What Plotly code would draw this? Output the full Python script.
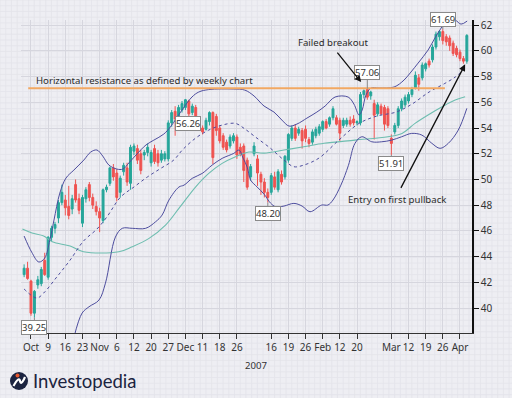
import plotly.graph_objects as go

# ---------------- data ----------------
opens = [42.6, 43.1, 42.1, 39.6, 41.8, 41.9, 43.7, 42.4, 45.5, 46.2,
         47.0, 48.2, 48.4, 47.9, 47.7, 49.6, 48.5, 46.6, 48.5, 49.6,
         48.6, 47.9, 47.5, 46.8, 49.2, 49.7, 50.9, 50.5, 49.0, 50.6,
         50.9, 49.7, 52.2, 52.4, 52.0, 51.9, 52.1, 51.3, 52.4, 52.0,
         51.5, 51.6, 51.6, 54.4, 55.3, 54.8, 55.4, 55.6, 56.1, 55.2,
         55.6, 54.5, 54.0, 53.9, 54.5, 55.2, 54.9, 54.0, 53.4, 52.9,
         52.6, 53.0, 53.3, 52.5, 52.6, 51.5, 50.2, 52.0, 51.6, 50.4,
         49.8, 49.0, 49.0, 50.2, 49.2, 50.4, 50.2, 51.5, 53.2, 54.0,
         53.6, 53.8, 53.9, 53.1, 52.9, 53.4, 53.6, 53.9, 54.5, 54.3,
         54.8, 54.8, 54.6, 54.2, 54.3, 54.6, 54.7, 54.4, 54.4, 56.6,
         57.0, 56.5, 55.9, 55.1, 55.7, 55.6, 55.5, 53.2, 53.7, 54.2,
         55.5, 55.8, 56.1, 56.6, 57.1, 57.9, 57.9, 58.6, 59.2, 59.3,
         60.3, 61.1, 61.5, 61.1, 61.0, 60.6, 60.2, 59.9, 59.4, 59.2]
highs = [43.4, 43.6, 42.2, 41.4, 42.5, 43.2, 44.3, 45.6, 46.4, 46.7,
         48.4, 49.6, 48.8, 49.5, 48.8, 50.0, 48.9, 48.8, 49.4, 49.8,
         48.9, 48.3, 47.8, 49.3, 49.6, 51.0, 51.2, 50.8, 50.3, 51.3,
         51.3, 52.7, 52.8, 52.7, 52.3, 52.3, 52.8, 52.3, 52.7, 52.3,
         52.3, 52.2, 54.6, 55.4, 55.7, 55.8, 56.1, 56.26, 56.2, 55.9,
         55.8, 54.7, 54.2, 54.8, 55.3, 55.3, 55.1, 54.2, 53.6, 53.1,
         53.5, 53.6, 53.5, 52.8, 52.8, 51.7, 51.2, 52.9, 51.9, 50.6,
         50.1, 49.3, 50.5, 50.6, 50.8, 50.7, 51.9, 53.6, 54.2, 54.3,
         54.1, 54.0, 54.2, 53.3, 53.9, 54.1, 54.3, 54.6, 54.7, 54.9,
         55.7, 55.0, 54.8, 54.8, 54.8, 54.9, 55.0, 54.6, 56.8, 57.0,
         57.06, 56.9, 56.2, 56.0, 55.9, 55.8, 55.7, 53.5, 54.4, 55.7,
         56.3, 56.6, 56.8, 57.2, 58.4, 58.2, 59.1, 59.1, 59.4, 60.5,
         61.5, 61.6, 61.69, 61.3, 61.2, 60.8, 60.4, 60.1, 59.6, 61.3]
lows = [42.4, 42.2, 39.4, 39.25, 41.5, 41.7, 42.5, 42.2, 45.2, 45.8,
        46.6, 48.0, 47.2, 46.9, 47.3, 48.2, 47.3, 46.3, 48.2, 48.3,
        47.7, 47.2, 45.9, 46.6, 49.0, 49.5, 49.9, 48.3, 48.6, 50.3,
        49.5, 49.2, 51.9, 51.2, 50.4, 51.5, 51.8, 51.0, 51.2, 51.0,
        51.3, 51.4, 51.4, 54.1, 53.4, 54.6, 55.2, 55.4, 54.9, 55.0,
        54.0, 53.8, 53.5, 53.8, 54.2, 51.2, 53.4, 52.8, 52.3, 52.1,
        52.4, 52.8, 51.6, 51.8, 49.8, 49.2, 49.9, 51.8, 49.5, 48.8,
        48.6, 48.2, 48.8, 49.2, 49.0, 49.6, 50.0, 51.3, 53.0, 53.0,
        53.4, 52.4, 52.9, 52.5, 52.7, 53.2, 53.4, 53.7, 53.9, 54.1,
        54.6, 54.2, 53.0, 54.0, 54.1, 54.1, 54.2, 54.2, 54.2, 56.3,
        56.2, 56.2, 53.1, 54.9, 55.0, 53.8, 54.0, 51.91, 53.5, 54.0,
        55.3, 55.6, 55.9, 56.4, 57.0, 56.9, 57.7, 58.4, 58.7, 59.1,
        60.1, 60.8, 60.5, 60.4, 60.0, 59.6, 59.5, 59.2, 59.0, 59.0]
closes = [43.1, 42.3, 39.6, 41.3, 42.2, 43.0, 42.6, 45.5, 46.2, 46.5,
          48.2, 49.0, 47.8, 47.2, 48.5, 48.4, 47.6, 48.6, 49.2, 48.6,
          48.0, 47.5, 47.0, 49.2, 49.4, 50.9, 50.2, 48.6, 50.1, 51.1,
          49.8, 52.5, 52.6, 51.5, 50.7, 52.1, 52.5, 52.1, 51.4, 51.3,
          52.0, 52.0, 54.4, 55.2, 54.7, 55.6, 55.9, 56.2, 55.1, 55.7,
          54.2, 54.0, 53.7, 54.6, 55.2, 51.7, 53.8, 53.0, 52.5, 52.3,
          53.3, 53.4, 51.9, 52.0, 50.7, 49.4, 51.0, 52.6, 50.5, 49.8,
          49.0, 48.6, 50.3, 49.4, 50.6, 49.8, 51.8, 53.5, 54.0, 53.2,
          53.9, 53.0, 53.2, 52.8, 53.7, 53.9, 54.1, 54.5, 54.0, 54.8,
          55.5, 54.3, 53.6, 54.6, 54.6, 54.3, 54.4, 54.5, 56.6, 56.9,
          56.4, 56.8, 55.0, 55.8, 55.1, 54.3, 54.2, 52.8, 54.2, 55.5,
          56.1, 56.4, 56.6, 57.0, 58.1, 57.4, 58.9, 59.0, 58.9, 60.3,
          61.3, 61.5, 60.8, 60.7, 60.4, 59.8, 59.7, 59.4, 59.2, 61.2]
days = list(range(len(opens)))

tick_days = [2, 7, 12, 17, 22, 27, 32, 37, 42, 47, 52, 57, 62,
             72, 77, 82, 87, 92, 97, 107, 112, 117, 122, 127]
tick_labels = ["Oct", "9", "16", "23", "Nov", "6", "12", "20", "27", "Dec", "11", "18", "26",
               "16", "19", "26", "Feb", "12", "20", "Mar", "12", "19", "26", "Apr"]

upper_x = [0, 2.2, 4.3, 6.0, 7.5, 8.7, 10.4, 12.2, 14.5, 17.4, 19.4, 21.2, 22.9, 24.7,
           27.0, 28.8, 30.5, 32.6, 35.5, 37.8, 40.7, 42.8, 46.0, 48.9, 50.9, 53.8, 61.1,
           64.3, 67.0, 69.9, 72.8, 75.1, 77.2, 79.5, 82.4, 85.3, 87.7, 90.6, 94.4, 96.1,
           97.6, 98.5, 99.6, 101.1, 103.4, 107.8, 110.7, 112.7, 114.8, 117.7, 119.7,
           121.5, 123.2, 125.6, 127.3, 129.1]
upper_y = [45.60, 44.35, 43.58, 43.89, 45.29, 46.84, 48.94, 50.11, 50.73, 51.51, 52.13,
           52.29, 51.82, 51.12, 50.81, 50.81, 51.28, 51.90, 52.68, 53.06, 53.53, 54.15,
           55.40, 56.41, 56.80, 56.99, 57.03, 56.95, 56.49, 55.71, 55.24, 54.62, 54.15,
           54.31, 54.77, 55.24, 55.71, 56.41, 56.41, 55.86, 55.01, 55.40, 56.56, 57.11,
           57.11, 57.19, 57.73, 58.35, 59.05, 60.06, 61.00, 61.77, 62.39, 62.39, 62.08, 62.32]

lower_x = [14.5, 16.9, 18.9, 21.8, 23.7, 26.6, 28.6, 31.5, 35.4, 38.3, 40.2, 42.2, 45.1,
           46.6, 49.0, 51.9, 54.8, 57.7, 61.1, 62.6, 63.8, 65.0, 66.0, 67.9, 69.9, 71.8,
           73.3, 75.7, 78.6, 81.0, 83.3, 86.7, 88.5, 90.0, 92.3, 94.5, 96.4, 98.4, 101.3,
           104.2, 107.1, 110.0, 112.9, 115.9, 118.8, 121.2, 123.6, 126.5, 129.0]
lower_y = [37.70, 39.61, 40.10, 40.62, 41.94, 45.52, 46.20, 46.20, 46.20, 46.71, 47.23,
           48.40, 49.41, 49.56, 50.09, 50.47, 51.12, 51.64, 52.03, 52.29, 51.66, 50.96,
           49.95, 49.41, 48.86, 48.16, 47.88, 47.93, 48.14, 47.93, 47.49, 48.01, 48.01,
           48.40, 49.56, 51.10, 52.81, 53.32, 52.93, 52.93, 53.06, 53.32, 53.58, 53.45,
           52.81, 52.42, 52.81, 53.84, 55.53]

mid_x = [0, 3.7, 5.7, 9.5, 13.4, 17.3, 21.2, 24.1, 28.1, 32.0, 35.9, 39.8, 43.6, 46.1,
         50.0, 53.8, 57.7, 61.6, 64.1, 67.3, 71.8, 75.7, 78.6, 81.5, 85.9, 91.7, 97.6,
         102.8, 108.4, 113.0, 118.0, 122.6, 125.6, 128.5]
mid_y = [41.48, 40.78, 41.17, 42.41, 43.73, 45.21, 46.14, 47.08, 48.63, 49.41, 50.19,
         50.86, 51.51, 52.29, 53.22, 53.84, 54.23, 54.36, 53.97, 53.32, 52.42, 51.51,
         50.99, 51.12, 51.66, 53.06, 54.36, 54.93, 55.24, 55.86, 56.80, 57.47, 57.96, 58.66]

slow_x = [-0.5, 2.3, 5.7, 8.2, 13.4, 17.3, 27.6, 31.5, 36.4, 41.2, 45.1, 50.0, 53.8,
          57.7, 61.6, 65.5, 69.9, 75.7, 81.5, 87.4, 96.4, 106.0, 110.1, 113.9, 117.7,
          121.8, 125.6, 128.5]
slow_y = [46.14, 45.83, 45.60, 45.16, 44.82, 44.38, 44.38, 44.77, 45.42, 46.45, 47.75,
          49.43, 50.47, 51.25, 51.77, 52.13, 52.05, 52.29, 52.54, 52.81, 53.06, 53.32,
          53.58, 54.36, 55.01, 55.65, 56.17, 56.43]

resistance_level = 57.1
resistance_span = [1.2, 122.6]

point_labels = ["39.25", "56.26", "48.20", "57.06", "51.91", "61.69"]
point_days = [3, 47, 71, 100, 107, 122]
point_values = [39.25, 56.26, 48.20, 57.06, 51.91, 61.69]

# ---------------- figure ----------------
W, H = 512, 398
ML, MR, MT, MB = 21, 40, 20, 65
PW, PH = W - ML - MR, H - MT - MB
FONT = "Noto Sans"
BAND = "#4d4d9e"


def pxf(x):
    return (x - ML) / PW


def pyf(y):
    return (H - MB - y) / PH


fig = go.Figure()

fig.add_trace(go.Scatter(x=slow_x, y=slow_y, mode="lines", line=dict(color="#6dbdaf", width=1.1, shape="spline"),
                         hoverinfo="skip", showlegend=False))
fig.add_trace(go.Scatter(x=upper_x, y=upper_y, mode="lines", line=dict(color=BAND, width=1, shape="spline"),
                         hoverinfo="skip", showlegend=False))
fig.add_trace(go.Scatter(x=lower_x, y=lower_y, mode="lines", line=dict(color=BAND, width=1, shape="spline"),
                         hoverinfo="skip", showlegend=False))
fig.add_trace(go.Scatter(x=mid_x, y=mid_y, mode="lines", line=dict(color=BAND, width=1, dash="dot", shape="spline"),
                         hoverinfo="skip", showlegend=False))

fig.add_trace(go.Candlestick(
    x=days, open=opens, high=highs, low=lows, close=closes,
    increasing=dict(line=dict(color="#26a69a", width=1), fillcolor="#26a69a"),
    decreasing=dict(line=dict(color="#ef5350", width=1), fillcolor="#ef5350"),
    whiskerwidth=0, showlegend=False))

shapes = []
# graph paper background
step = 5.72
parts = []
x = 0.0
while x <= W + 0.1:
    parts.append(f"M{pxf(x):.5f},{pyf(0):.5f}L{pxf(x):.5f},{pyf(H):.5f}")
    x += step
y = 0.0
while y <= H + 0.1:
    parts.append(f"M{pxf(0):.5f},{pyf(y):.5f}L{pxf(W):.5f},{pyf(y):.5f}")
    y += step
shapes.append(dict(type="path", xref="paper", yref="paper", path="".join(parts),
                   line=dict(color="#e3e3ea", width=0.8), layer="below"))

# resistance line
shapes.append(dict(type="line", xref="x", yref="y", x0=resistance_span[0], x1=resistance_span[1],
                   y0=resistance_level, y1=resistance_level,
                   line=dict(color="#f2a862", width=2), layer="above"))

# logo icon
shapes.append(dict(type="circle", xref="paper", yref="paper", x0=pxf(10), x1=pxf(28), y0=pyf(390), y1=pyf(372),
                   fillcolor="#1b2340", line=dict(width=0)))
shapes.append(dict(type="path", xref="paper", yref="paper",
                   path=f"M{pxf(13.5)},{pyf(386)} Q{pxf(19)},{pyf(376)} {pxf(20)},{pyf(381)} T{pxf(25)},{pyf(377)}",
                   line=dict(color="white", width=2.2)))
shapes.append(dict(type="circle", xref="paper", yref="paper", x0=pxf(15.5), x1=pxf(19.5), y0=pyf(377.5), y1=pyf(373.5),
                   fillcolor="#e4572e", line=dict(width=0)))

annotations = []
LABEL_FONT = dict(family=FONT, size=9.5, color="#333")
lab_offsets = [(0, 10), (2, 0), (0, 11), (0, -16), (0, 9), (0, -10)]
for lab, d, v, (ax, ay) in zip(point_labels, point_days, point_values, lab_offsets):
    if lab == "56.26":
        annotations.append(dict(x=47.7, y=54.35, xref="x", yref="y", text=lab, showarrow=False,
                                xanchor="center", yanchor="middle",
                                bgcolor="white", bordercolor="#8a8a8a", borderwidth=1, borderpad=0,
                                font=LABEL_FONT))
    else:
        annotations.append(dict(x=d, y=v, xref="x", yref="y", text=lab, showarrow=True, arrowhead=0,
                                arrowwidth=1, arrowcolor="#8a8a8a", ax=ax, ay=ay,
                                bgcolor="white", bordercolor="#8a8a8a", borderwidth=1, borderpad=0,
                                font=LABEL_FONT))


def text_note(px_, py_, txt, size=9.6, color="#2b2b2b", family=FONT, xanchor="center"):
    return dict(x=pxf(px_), y=pyf(py_), xref="paper", yref="paper", text=txt, showarrow=False,
                xanchor=xanchor, yanchor="middle", font=dict(family=family, size=size, color=color))


annotations.append(text_note(144, 80, "Horizontal resistance as defined by weekly chart"))
annotations.append(text_note(333, 43, "Failed breakout"))
annotations.append(dict(x=98.2, y=57.57, xref="x", yref="y", text="", showarrow=True, arrowhead=2, arrowsize=1,
                        arrowwidth=1.3, arrowcolor="#111", ax=-25, ay=-31))
annotations.append(text_note(397, 200, "Entry on first pullback"))
annotations.append(dict(x=128.5, y=58.95, xref="x", yref="y", text="", showarrow=True, arrowhead=2, arrowsize=1,
                        arrowwidth=1.3, arrowcolor="#111", ax=-65, ay=125))
annotations.append(text_note(256, 365, "2007", color="#333"))
annotations.append(text_note(31, 381, "Investopedia", size=18.5, color="#1b2340", family="Lato", xanchor="left"))

fig.update_layout(
    width=W, height=H,
    margin=dict(l=ML, r=MR, t=MT, b=MB, pad=0, autoexpand=False),
    paper_bgcolor="#eeeef3", plot_bgcolor="rgba(0,0,0,0)",
    font=dict(family=FONT, size=10, color="#333"),
    shapes=shapes, annotations=annotations,
    showlegend=False, boxgap=0.2,
    xaxis=dict(range=[-0.91, 130.5], tickmode="array", tickvals=tick_days, ticktext=tick_labels,
               tickangle=0, automargin=False,
               ticks="outside", ticklen=5, tickcolor="#333", showline=True, linecolor="#333", linewidth=1,
               showgrid=True, gridcolor="#d6d6de", gridwidth=1, zeroline=False,
               rangeslider=dict(visible=False), tickfont=dict(size=10, color="#333")),
    yaxis=dict(range=[38.06, 62.4], side="right", tickmode="linear", tick0=40, dtick=2, automargin=False,
               ticks="outside", ticklen=5, tickcolor="#111", showline=True, linecolor="#111", linewidth=1.5,
               showgrid=True, gridcolor="#d6d6de", gridwidth=1, zeroline=False,
               tickfont=dict(size=10, color="#333")),
)

fig.write_html("out.html", config={"displayModeBar": False},
               post_script="document.body.style.margin='0';document.body.style.background='#eeeef3';")
